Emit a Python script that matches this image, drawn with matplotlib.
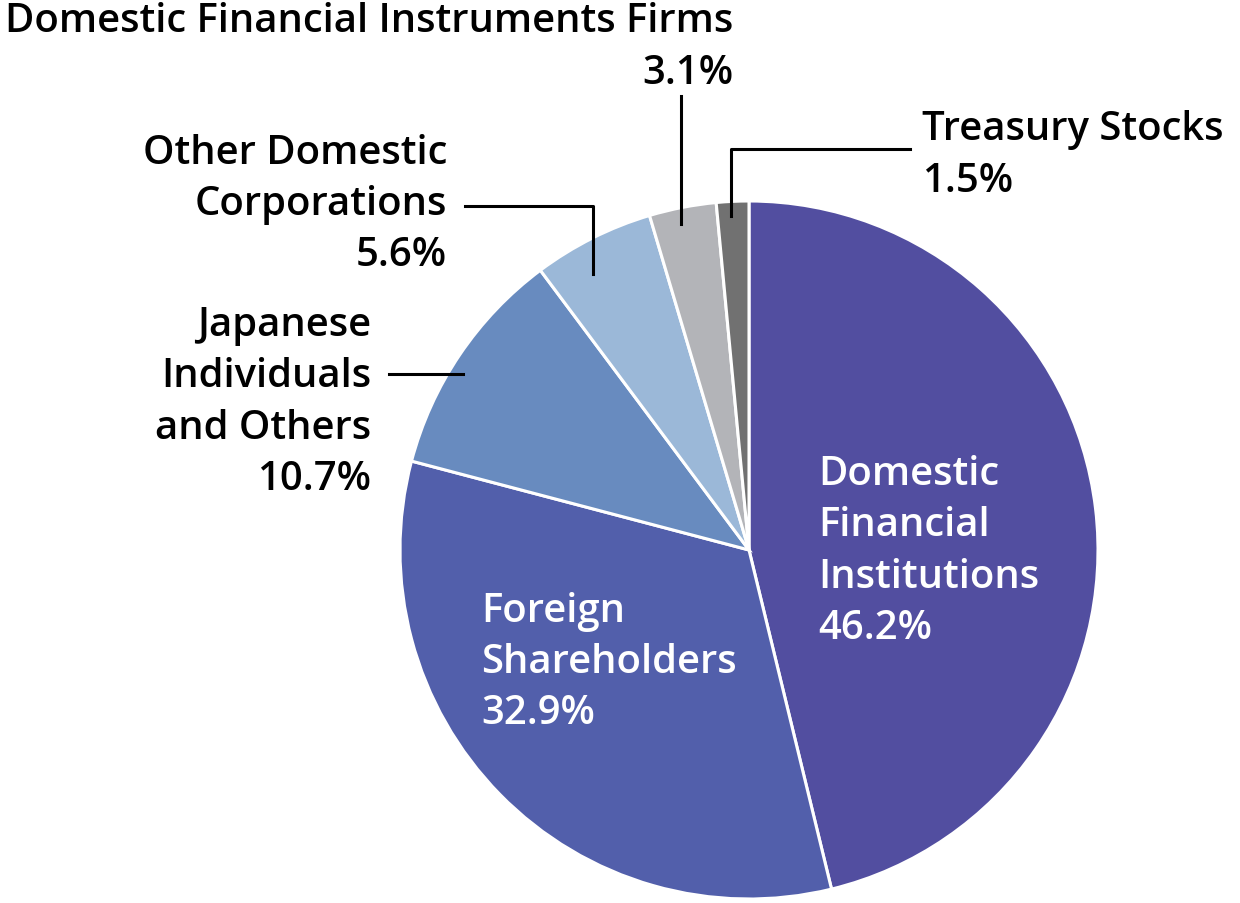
import matplotlib
matplotlib.use("Agg")
import matplotlib.pyplot as plt

categories = ["Domestic\nFinancial\nInstitutions", "Foreign\nShareholders",
              "Japanese\nIndividuals\nand Others", "Other Domestic\nCorporations",
              "Domestic Financial Instruments Firms", "Treasury Stocks"]
shares = [46.2, 32.9, 10.7, 5.6, 3.1, 1.5]
colors = ["#524ea0", "#525fab", "#688bbf", "#9bb8d8", "#b3b4b8", "#717171"]

H = 904
fig = plt.figure(figsize=(12.4, 9.04), dpi=100)
ax = fig.add_axes([0, 0, 1, 1])
ax.set_xlim(0, 1240)
ax.set_ylim(0, H)
ax.set_aspect("equal")
ax.axis("off")

plt.rcParams["font.family"] = ["Open Sans", "DejaVu Sans"]
fs = 28.8
lw = 2.2

ax.pie(shares, colors=colors, startangle=90, counterclock=False,
       center=(749, H - 551), radius=349,
       wedgeprops=dict(edgecolor="white", linewidth=2.2))
ax.set_xlim(0, 1240)
ax.set_ylim(0, H)

lab = ["%s\n%.1f%%" % (c, v) for c, v in zip(categories, shares)]
tk = dict(fontsize=fs, fontweight="semibold", linespacing=1.38)

# inside labels
ax.text(818, H - 552, lab[0], color="white", ha="left", va="center", **tk)
ax.text(481, H - 663, lab[1], color="white", ha="left", va="center", **tk)

# outside labels
ax.text(371, H - 403, lab[2], color="black", ha="right", va="center", **tk)
ax.text(447, H - 205, lab[3], color="black", ha="right", va="center", **tk)
ax.text(733, H - 48, lab[4], color="black", ha="right", va="center", **tk)
ax.text(922, H - 156, lab[5], color="black", ha="left", va="center", **tk)

# leader lines
ax.plot([389, 463], [H - 375, H - 375], color="black", lw=lw)
ax.plot([465, 593, 593], [H - 207, H - 207, H - 275], color="black", lw=lw)
ax.plot([681, 681], [H - 97, H - 225], color="black", lw=lw)
ax.plot([910, 731, 731], [H - 150, H - 150, H - 217], color="black", lw=lw)

plt.savefig("out.png", dpi=100)
